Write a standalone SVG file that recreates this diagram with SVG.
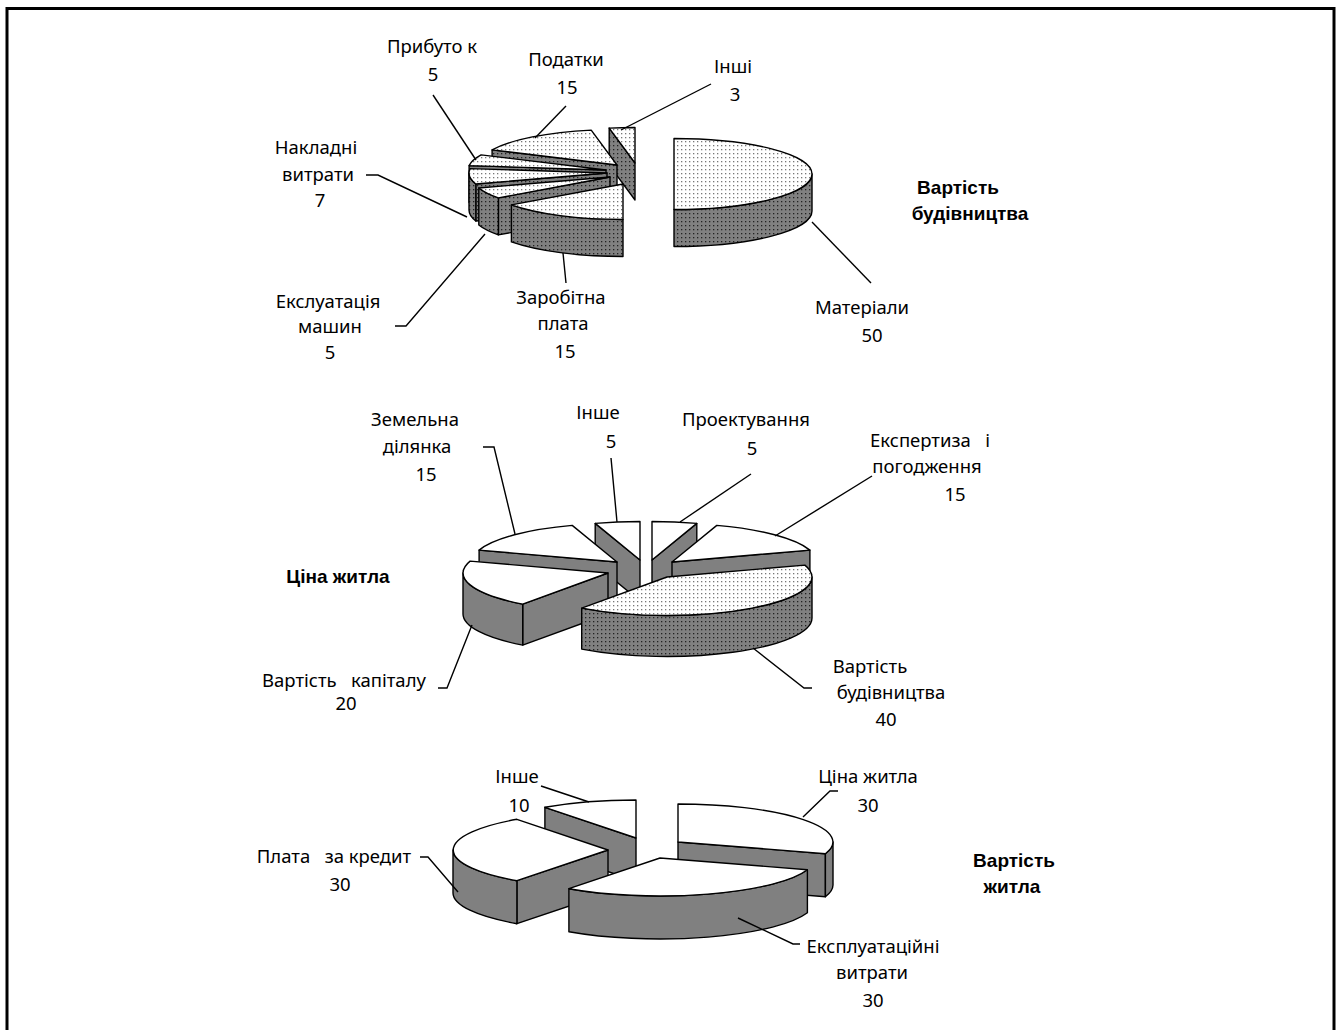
<svg xmlns="http://www.w3.org/2000/svg" width="1338" height="1030" viewBox="0 0 1338 1030">
<defs>
<pattern id="dotTop" patternUnits="userSpaceOnUse" width="4" height="4">
<rect width="4" height="4" fill="#fff"/>
<rect x="1" y="1" width="1.3" height="1.3" fill="#777"/>
</pattern>
<pattern id="dotSide" patternUnits="userSpaceOnUse" width="4" height="4">
<rect width="4" height="4" fill="#808080"/>
<rect x="1" y="1" width="1.3" height="1.3" fill="#222"/>
</pattern>
</defs>
<style>
.t{font-family:"Noto Sans","Open Sans",sans-serif;font-size:18.5px;fill:#000;text-anchor:middle;white-space:pre}
.b{font-family:"Liberation Sans",Arial,sans-serif;font-size:19px;font-weight:bold;fill:#000;text-anchor:middle}
.f{stroke:#000;stroke-width:1.4;stroke-linejoin:round}
.top{fill:#fff}
.side{fill:#808080}
.dtop{fill:url(#dotTop)}
.dside{fill:url(#dotSide)}
.ld{fill:none;stroke:#000;stroke-width:1.4}
</style>
<rect x="7" y="8.5" width="1327" height="1040" fill="#fff" stroke="#000" stroke-width="3"/>

<!-- Pie 1: Вартість будівництва -->
<g id="pie1">
<g id="p1-inshi">
<path class="f dside" d="M635,163 L609.2,128.1 L609.2,165.1 L635,200 Z"/>
<path class="f dtop" d="M635,163 L609.2,128.1 A138,35.5 0 0,1 635,127.5 Z"/>
</g>
<g id="p1-podatky">
<path class="f dside" d="M617,165 L492.1,149.9 L492.1,186.9 L617,202 Z"/>
<path class="f dtop" d="M617,165 L492.1,149.9 A138,35.5 0 0,1 591.2,130.1 Z"/>
</g>
<g id="p1-prybutok">
<path class="f dside" d="M606,170 L469.1,165.6 L469.1,202.6 L606,207 Z"/>
<path class="f dtop" d="M606,170 L469.1,165.6 A138,35.5 0 0,1 481.1,154.9 Z"/>
</g>
<g id="p1-nakladni">
<path class="f dside" d="M607,173 L475.8,184 L475.8,221 L607,210 Z"/>
<path class="f dside" d="M475.8,184 A138,35.5 0 0,1 469,173 L469,210 A138,35.5 0 0,0 475.8,221 Z"/>
<path class="f dtop" d="M607,173 L475.8,184 A138,35.5 0 0,1 470.1,168.6 Z"/>
</g>
<g id="p1-mashyny">
<path class="f dside" d="M610,177 L498.4,197.9 L498.4,234.9 L610,214 Z"/>
<path class="f dside" d="M498.4,197.9 A138,35.5 0 0,1 478.8,188 L478.8,225 A138,35.5 0 0,0 498.4,234.9 Z"/>
<path class="f dtop" d="M610,177 L498.4,197.9 A138,35.5 0 0,1 478.8,188 Z"/>
</g>
<g id="p1-zarplata">
<path class="f dside" d="M623,219.5 A138,35.5 0 0,1 511.4,204.9 L511.4,241.9 A138,35.5 0 0,0 623,256.5 Z"/>
<path class="f dtop" d="M623,184 L623,219.5 A138,35.5 0 0,1 511.4,204.9 Z"/>
</g>
<g id="p1-materialy">
<path class="f dside" d="M812,174 A138,35.5 0 0,1 674,209.5 L674,246.5 A138,35.5 0 0,0 812,211 Z"/>
<path class="f dtop" d="M674,138.5 A138,35.5 0 0,1 812,174 A138,35.5 0 0,1 674,209.5 Z"/>
</g>
</g>

<!-- Pie 2: Ціна житла -->
<g id="pie2">
<g id="p2-inshe">
<path class="f side" d="M640,560 L595.2,523.4 L595.2,564.4 L640,601 Z"/>
<path class="f top" d="M640,560 L595.2,523.4 A145,38.5 0 0,1 640,521.5 Z"/>
</g>
<g id="p2-proekt">
<path class="f side" d="M652,560 L696.8,523.4 L696.8,564.4 L652,601 Z"/>
<path class="f top" d="M652,560 L652,521.5 A145,38.5 0 0,1 696.8,523.4 Z"/>
</g>
<g id="p2-zemelna">
<path class="f side" d="M617,562 L479.1,550.1 L479.1,591.1 L617,603 Z"/>
<path class="f top" d="M617,562 L479.1,550.1 A145,38.5 0 0,1 572.2,525.4 Z"/>
</g>
<g id="p2-ekspertyza">
<path class="f side" d="M672,562 L809.9,550.1 L809.9,591.1 L672,603 Z"/>
<path class="f top" d="M672,562 L716.8,525.4 A145,38.5 0 0,1 809.9,550.1 Z"/>
</g>
<g id="p2-kapital">
<path class="f side" d="M608,573 L522.7,604.1 L522.7,645.1 L608,614 Z"/>
<path class="f side" d="M522.7,604.1 A145,38.5 0 0,1 463,573 L463,614 A145,38.5 0 0,0 522.7,645.1 Z"/>
<path class="f top" d="M608,573 L522.7,604.1 A145,38.5 0 0,1 470.1,561.1 Z"/>
</g>
<g id="p2-budivnytstvo">
<path class="f dside" d="M812,577 A145,38.5 0 0,1 581.7,608.1 L581.7,649.1 A145,38.5 0 0,0 812,618 Z"/>
<path class="f dtop" d="M667,577 L804.9,565.1 A145,38.5 0 0,1 581.7,608.1 Z"/>
</g>
</g>

<!-- Pie 3: Вартість житла -->
<g id="pie3">
<g id="p3-inshe">
<path class="f side" d="M636,838 L544.9,807.3 L544.9,850.3 L636,881 Z"/>
<path class="f top" d="M636,838 L544.9,807.3 A155,38 0 0,1 636,800 Z"/>
</g>
<g id="p3-tsina">
<path class="f side" d="M678,842 L825.4,853.7 L825.4,896.7 L678,885 Z"/>
<path class="f side" d="M833,842 A155,38 0 0,1 825.4,853.7 L825.4,896.7 A155,38 0 0,0 833,885 Z"/>
<path class="f top" d="M678,842 L678,804 A155,38 0 0,1 825.4,853.7 Z"/>
</g>
<g id="p3-kredyt">
<path class="f side" d="M608,850 L516.9,880.7 L516.9,923.7 L608,893 Z"/>
<path class="f side" d="M516.9,880.7 A155,38 0 0,1 453,850 L453,893 A155,38 0 0,0 516.9,923.7 Z"/>
<path class="f top" d="M608,850 L516.9,880.7 A155,38 0 0,1 516.9,819.3 Z"/>
</g>
<g id="p3-ekspl">
<path class="f side" d="M807.4,869.7 A155,38 0 0,1 568.9,888.7 L568.9,931.7 A155,38 0 0,0 807.4,912.7 Z"/>
<path class="f top" d="M660,858 L807.4,869.7 A155,38 0 0,1 568.9,888.7 Z"/>
</g>
</g>

<!-- Connectors (leader lines) -->
<g id="connectors">
<path class="ld" d="M433,95 L476,160"/>
<path class="ld" d="M566,106 L535,138"/>
<path class="ld" d="M711,84 L621,130"/>
<path class="ld" d="M366,175 L378,175 L467,217"/>
<path class="ld" d="M395,326 L406,326 L485,234"/>
<path class="ld" d="M563,253 L566,283"/>
<path class="ld" d="M812,222 L871,283"/>
<path class="ld" d="M483,447 L494,447 L515,534"/>
<path class="ld" d="M611,458 L617,522"/>
<path class="ld" d="M751,474 L680,522"/>
<path class="ld" d="M872,476 L775,536"/>
<path class="ld" d="M438,688 L447,688 L472,625"/>
<path class="ld" d="M753,648 L804,688 L812,688"/>
<path class="ld" d="M541,786 L589,802"/>
<path class="ld" d="M838,791 L830,791 L803,817"/>
<path class="ld" d="M420,857 L428,857 L458,892"/>
<path class="ld" d="M738,918 L793,944 L800,944"/>
</g>

<!-- Labels -->
<g id="labels">
<text class="t" x="432" y="53">Прибуто к</text>
<text class="t" x="433" y="81">5</text>
<text class="t" x="566" y="66">Податки</text>
<text class="t" x="567" y="94">15</text>
<text class="t" x="733" y="73">Інші</text>
<text class="t" x="735" y="101">3</text>
<text class="t" x="316" y="154">Накладні</text>
<text class="t" x="318" y="181">витрати</text>
<text class="t" x="320" y="207">7</text>
<text class="b" x="958" y="194">Вартість</text>
<text class="b" x="970" y="220">будівництва</text>
<text class="t" x="328" y="308">Екслуатація</text>
<text class="t" x="330" y="333">машин</text>
<text class="t" x="330" y="359">5</text>
<text class="t" x="561" y="304">Заробітна</text>
<text class="t" x="563" y="330">плата</text>
<text class="t" x="565" y="358">15</text>
<text class="t" x="862" y="314">Матеріали</text>
<text class="t" x="872" y="342">50</text>

<text class="t" x="415" y="426">Земельна</text>
<text class="t" x="417" y="453">ділянка</text>
<text class="t" x="426" y="481">15</text>
<text class="t" x="598" y="419">Інше</text>
<text class="t" x="611" y="448">5</text>
<text class="t" x="746" y="426">Проектування</text>
<text class="t" x="752" y="455">5</text>
<text class="t" x="930" y="447">Експертиза   і</text>
<text class="t" x="927" y="473">погодження</text>
<text class="t" x="955" y="501">15</text>
<text class="b" x="338" y="583">Ціна житла</text>
<text class="t" x="344" y="687">Вартість   капіталу</text>
<text class="t" x="346" y="710">20</text>
<text class="t" x="870" y="673">Вартість</text>
<text class="t" x="891" y="699">будівництва</text>
<text class="t" x="886" y="726">40</text>

<text class="t" x="517" y="783">Інше</text>
<text class="t" x="519" y="812">10</text>
<text class="t" x="868" y="783">Ціна житла</text>
<text class="t" x="868" y="812">30</text>
<text class="t" x="334" y="863">Плата   за кредит</text>
<text class="t" x="340" y="891">30</text>
<text class="b" x="1014" y="867">Вартість</text>
<text class="b" x="1012" y="893">житла</text>
<text class="t" x="873" y="953">Експлуатаційні</text>
<text class="t" x="872" y="979">витрати</text>
<text class="t" x="873" y="1007">30</text>
</g>
</svg>
